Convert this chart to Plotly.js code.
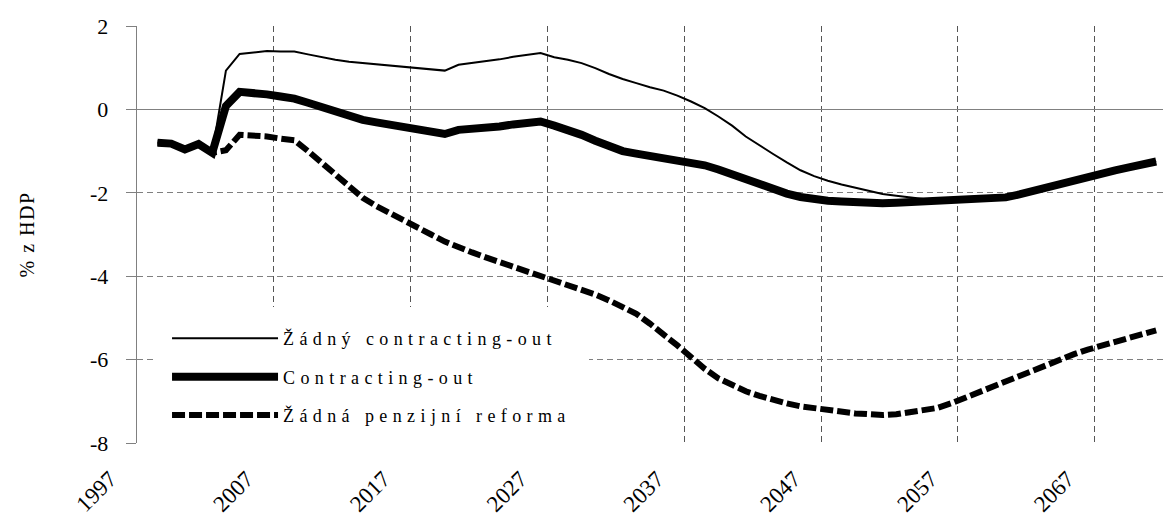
<!DOCTYPE html>
<html>
<head>
<meta charset="utf-8">
<script src="https://cdn.plot.ly/plotly-3.0.1.min.js"></script>
<style>
  html, body { margin: 0; padding: 0; background: #fff; }
  #chart { width: 1163px; height: 527px; }
  .legendtext { letter-spacing: 5.4px; }
  .ytitle { letter-spacing: 1.5px; }
</style>
</head>
<body>
<div id="chart"></div>
<script>
// ---- data ----
const years = [];
for (let y = 1998; y <= 2071; y++) years.push(y);

const zadnyContractingOut = [
  -0.80, -0.82, -0.96, -0.83, -1.04,            // 1998-2002
   0.93,  1.33,  1.37,  1.40,  1.39,  1.39,  1.32,  1.25,  1.19,  1.14, // 2003-2012
   1.11,  1.08,  1.05,  1.03,  1.00,  0.97,  0.93,  1.07,  1.11,  1.15, // 2013-2022
   1.20,  1.26,  1.31,  1.35,  1.25,  1.19,  1.11,  0.99,  0.85,  0.73, // 2023-2032
   0.63,  0.53,  0.45,  0.33,  0.19,  0.03, -0.17, -0.39, -0.65, -0.87, // 2033-2042
  -1.07, -1.27, -1.46, -1.60, -1.71, -1.80, -1.88, -1.96, -2.03, -2.07, // 2043-2052
  -2.11, -2.15, -2.17, -2.16, -2.15, -2.14, -2.12, -2.09, -2.02, -1.93, // 2053-2062
  -1.84, -1.75, -1.68, -1.60, -1.52, -1.45, -1.38, -1.31, -1.24         // 2063-2071
];

const contractingOut = [
  -0.80, -0.82, -0.96, -0.83, -1.04,            // 1998-2002
   0.08,  0.42,  0.40,  0.36,  0.31,  0.26,  0.16,  0.06, -0.07, -0.17, // 2003-2012
  -0.25, -0.31, -0.37, -0.43, -0.49, -0.55, -0.59, -0.49, -0.47, -0.45, // 2013-2022
  -0.41, -0.36, -0.33, -0.29, -0.39, -0.49, -0.61, -0.75, -0.90, -1.00, // 2023-2032
  -1.06, -1.11, -1.16, -1.22, -1.27, -1.34, -1.44, -1.56, -1.70, -1.82, // 2033-2042
  -1.92, -2.02, -2.10, -2.16, -2.19, -2.21, -2.23, -2.24, -2.25, -2.24, // 2043-2052
  -2.22, -2.20, -2.18, -2.17, -2.16, -2.15, -2.14, -2.11, -2.04, -1.95, // 2053-2062
  -1.86, -1.77, -1.69, -1.61, -1.53, -1.46, -1.39, -1.32, -1.25         // 2063-2071
];

const zadnaPenzijniReforma = [
  -0.80, -0.82, -0.96, -0.83, -1.04,            // 1998-2002
  -0.98, -0.61, -0.62, -0.65, -0.70, -0.74, -1.00, -1.27, -1.56, -1.84, // 2003-2012
  -2.12, -2.32, -2.48, -2.68, -2.84, -3.00, -3.17, -3.31, -3.43, -3.55, // 2013-2022
  -3.66, -3.79, -3.91, -4.01, -4.12, -4.22, -4.32, -4.44, -4.58, -4.74, // 2023-2032
  -4.90, -5.14, -5.38, -5.66, -5.94, -6.22, -6.45, -6.61, -6.76, -6.87, // 2033-2042
  -6.97, -7.05, -7.12, -7.17, -7.22, -7.26, -7.29, -7.31, -7.33, -7.31, // 2043-2052
  -7.27, -7.23, -7.16, -7.05, -6.92, -6.77, -6.63, -6.50, -6.37, -6.24, // 2053-2062
  -6.11, -5.98, -5.87, -5.76, -5.66, -5.56, -5.47, -5.39, -5.30         // 2063-2071
];

const seriesNames = ['Žádný contracting-out', 'Contracting-out', 'Žádná penzijní reforma'];
const labelYears = [1997, 2007, 2017, 2027, 2037, 2047, 2057, 2067];
const yTicks = [-8, -6, -4, -2, 0, 2];
const yTitle = '% z HDP';

// ---- chart ----
const SERIF = 'Liberation Serif, Times New Roman, serif';
const X_RANGE = [1996.5, 2071.5];
const gridVals = labelYears.map(y => y - 0.5);   // category boundaries (labels sit on them)

const traces = [
  { x: years, y: zadnyContractingOut, name: seriesNames[0], type: 'scatter', mode: 'lines',
    line: { color: '#000', width: 2 }, legendgroup: 'a', legendrank: 1 },
  { x: years, y: contractingOut, name: seriesNames[1], type: 'scatter', mode: 'lines',
    line: { color: '#000', width: 8 }, legendgroup: 'b', legendrank: 2 },
  { x: years, y: zadnaPenzijniReforma, name: seriesNames[2], type: 'scatter', mode: 'lines',
    line: { color: '#000', width: 6, dash: '13px,4px' }, legendgroup: 'c', legendrank: 3 }
];

const layout = {
  width: 1163, height: 527,
  margin: { l: 137, r: 0, t: 26, b: 84, pad: 0 },
  paper_bgcolor: '#fff', plot_bgcolor: '#fff',
  font: { family: SERIF, color: '#000', size: 18 },
  showlegend: true,
  legend: {
    x: 0.0166, y: 0.326, xanchor: 'left', yanchor: 'top',
    bgcolor: '#fff', bordercolor: '#fff', borderwidth: 13,
    font: { family: SERIF, size: 18, color: '#000' },
    itemwidth: 106, tracegroupgap: 12, traceorder: 'grouped'
  },
  xaxis: {
    range: X_RANGE, autorange: false,
    tickmode: 'array',
    tickvals: gridVals,
    ticktext: labelYears.map(String),
    tickangle: -45,
    ticklabelshift: -27,
    ticklabelstandoff: 17,
    tickfont: { family: SERIF, size: 23, color: '#000' },
    ticks: '', showgrid: true, gridcolor: '#555', gridwidth: 1, griddash: '6px,4px',
    showline: false, zeroline: false, fixedrange: true
  },
  yaxis: {
    range: [-8, 2], autorange: false,
    tickmode: 'array', tickvals: yTicks, ticktext: yTicks.map(String),
    tickfont: { family: SERIF, size: 22, color: '#000' },
    ticks: 'outside', ticklen: 10, tickcolor: '#808080', tickwidth: 1,
    ticklabelstandoff: 13,
    showgrid: true, gridcolor: '#808080', gridwidth: 1, griddash: '6px,4px',
    zeroline: true, zerolinecolor: '#808080', zerolinewidth: 1.3,
    showline: true, linecolor: '#808080', linewidth: 1.3,
    title: { text: yTitle, font: { family: SERIF, size: 20, color: '#000' }, standoff: 50 },
    fixedrange: true
  }
};

Plotly.newPlot('chart', traces, layout, { displayModeBar: false, staticPlot: true });
</script>
</body>
</html>
